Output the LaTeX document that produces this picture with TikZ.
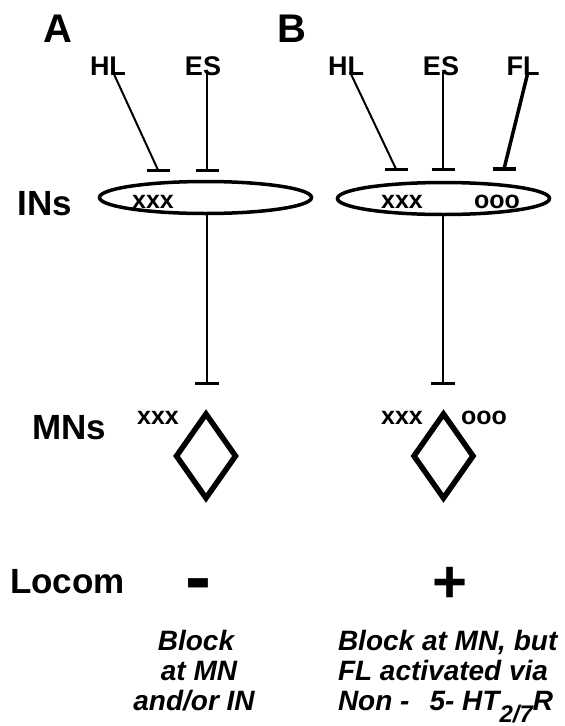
\documentclass[tikz,border=0pt]{standalone}
\usepackage{fontspec}
\setmainfont{Liberation Sans}
\usetikzlibrary{shapes.geometric}
\begin{document}
\begin{tikzpicture}[x=1pt,y=-1pt,
  every node/.style={inner sep=0pt, outer sep=0pt},
  panel/.style={font=\fontsize{40}{40}\selectfont\bfseries, anchor=base},
  src/.style={font=\fontsize{27}{27}\selectfont\bfseries, anchor=base},
  rowlab/.style={font=\fontsize{35}{35}\selectfont\bfseries, anchor=base},
  tag/.style={font=\fontsize{25}{25}\selectfont\bfseries, anchor=base},
  btext/.style={font=\fontsize{28}{30}\selectfont\bfseries\itshape, anchor=base},
  pool/.style={ellipse, draw, line width=3.5pt, minimum width=212pt, minimum height=32pt},
  mn/.style={diamond, draw, line width=5.5pt, minimum width=59pt, minimum height=84pt, line join=miter},
  fibre/.style={line width=2pt},
  barline/.style={line width=3pt},
]
\useasboundingbox (0,0) rectangle (565,726);

% panel letters
\node[panel] (pA) at (57.5,42) {A};
\node[panel] (pB) at (292,42) {B};

% input sources
\node[src] (hlA) at (108,75) {HL};
\node[src] (esA) at (203,75) {ES};
\node[src] (hlB) at (346,75) {HL};
\node[src] (esB) at (441,75) {ES};
\node[src] (flB) at (523,75) {FL};

% row labels
\node[rowlab] (ins) at (45,215) {INs};
\node[rowlab] (mns) at (69,439) {MNs};
\node[rowlab] (loc) at (67.5,593) {Locom};

% interneuron pools
\node[pool] (inA) at (205.5,197.5) {};
\node[pool] (inB) at (443.5,198.5) {};
\node[tag] (xA) at (153,208) {xxx};
\node[tag] (xB) at (402,208) {xxx};
\node[tag] (oB) at (497,208) {ooo};

% motoneurons
\node[mn] (mnA) at (206,456) {};
\node[mn] (mnB) at (443.5,456) {};
\node[tag] (xmA) at (158,424) {xxx};
\node[tag] (xmB) at (402,424) {xxx};
\node[tag] (omB) at (484,424) {ooo};

% fibre end points
\coordinate (hlA-s) at (113,72);  \coordinate (hlA-e) at (158,170);
\coordinate (esA-s) at (207,72);  \coordinate (esA-e) at (207,170);
\coordinate (hlB-s) at (350,72);  \coordinate (hlB-e) at (396,169);
\coordinate (esB-s) at (443,72);  \coordinate (esB-e) at (443,169);
\coordinate (flB-s) at (528,72);  \coordinate (flB-e) at (504,169);
\coordinate (dA) at (207,383);
\coordinate (dB) at (443,383);

% inhibitory inputs onto the interneurons
\draw[fibre] (hlA-s) -- (hlA-e);
\draw[fibre] (esA-s) -- (esA-e);
\draw[fibre] (hlB-s) -- (hlB-e);
\draw[fibre] (esB-s) -- (esB-e);
\draw[line width=3.5pt] (flB-s) -- (flB-e);
\foreach \p in {hlA-e,esA-e,hlB-e,esB-e}
  \draw[barline] ([xshift=-11.5pt]\p) -- ([xshift=11.5pt]\p);
\draw[line width=4.5pt] ([xshift=-11.5pt]flB-e) -- ([xshift=11.5pt]flB-e);

% interneurons onto motoneurons
\draw[fibre] (dA |- inA.south) -- (dA);
\draw[fibre] (dB |- inB.south) -- (dB);
\draw[barline] ([xshift=-12pt]dA) -- ([xshift=12pt]dA);
\draw[barline] ([xshift=-12pt]dB) -- ([xshift=12pt]dB);

% locomotor outcome
\node[font=\fontsize{78}{78}\selectfont\bfseries, anchor=base] (minus) at (198,603.5) {-};
\node[font=\fontsize{60}{60}\selectfont\bfseries, anchor=base] (plus) at (450,602) {+};

\node[btext] (a1) at (196,650) {Block};
\node[btext] (a2) at (199,680) {at MN};
\node[btext] (a3) at (194,710) {and/or IN};

\node[btext, anchor=base west] (b1) at (338,650) {Block at MN, but};
\node[btext, anchor=base west] (b2) at (338,680) {FL activated via};
\node[btext, anchor=base west] (b3) at (338,710)
  {Non -\hspace{20pt}5- HT\raisebox{-12pt}{\fontsize{24}{24}\selectfont 2/7}R};
\end{tikzpicture}
\end{document}
